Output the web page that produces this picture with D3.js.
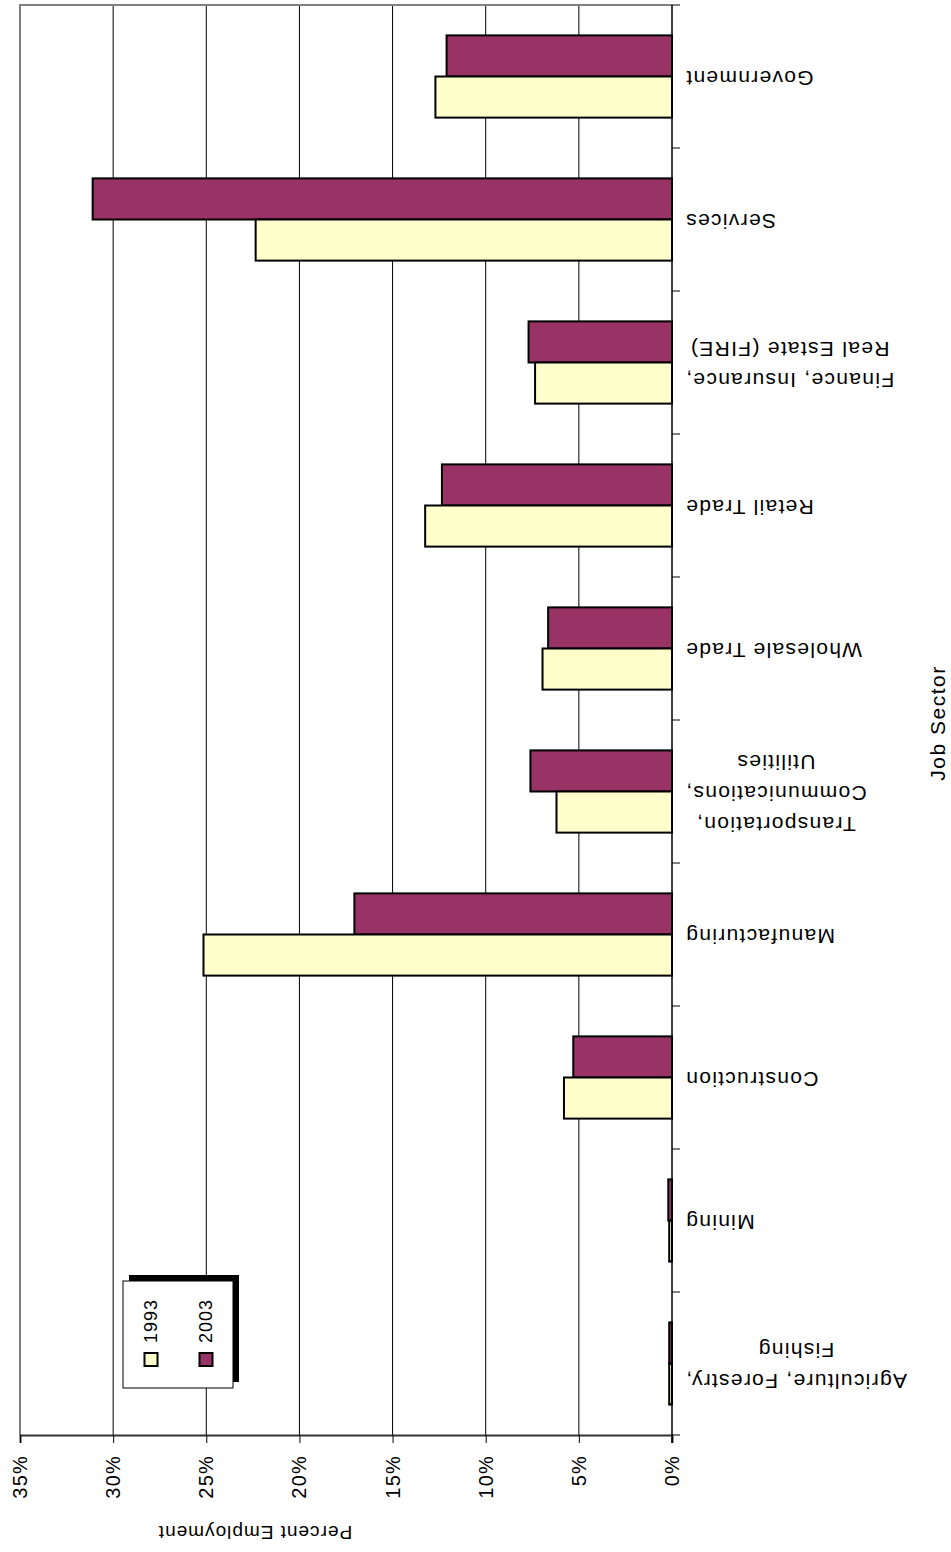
<!DOCTYPE html>
<html>
<head>
<meta charset="utf-8">
<script src="https://cdn.jsdelivr.net/npm/d3@7"></script>
<style>
  html, body { margin: 0; padding: 0; background: #fff; }
  svg { display: block; }
  text { font-family: Arial, "Liberation Sans", sans-serif; fill: #000; }
</style>
</head>
<body>
<svg id="chart" width="951" height="1552"></svg>
<script>
// Employment share by job sector, 1993 vs 2003
const sectors = [
  ["Government"],
  ["Services"],
  ["Finance, Insurance,", "Real Estate (FIRE)"],
  ["Retail Trade"],
  ["Wholesale Trade"],
  ["Transportation,", "Communications,", "Utilities"],
  ["Manufacturing"],
  ["Construction"],
  ["Mining"],
  ["Agriculture, Forestry,", "Fishing"]
];
const years = ["2003", "1993"];
const values2003 = [12.1, 31.1, 7.7, 12.35, 6.65, 7.6, 17.05, 5.3, 0.2, 0.15];
const values1993 = [12.7, 22.35, 7.35, 13.25, 6.95, 6.2, 25.15, 5.8, 0.15, 0.15];
const valueTicks = [0, 5, 10, 15, 20, 25, 30, 35];
const colors = { "2003": "#993366", "1993": "#FFFFCC" };

const svg = d3.select("#chart");
const plot = { left: 20, right: 672, top: 5, bottom: 1435 };

const x = d3.scaleLinear().domain([0, 35]).range([plot.right, plot.left]);
const y = d3.scaleBand()
  .domain(d3.range(sectors.length))
  .range([plot.top, plot.bottom]);
const groupFrac = 0.575;
const inner = d3.scaleBand()
  .domain(years)
  .range([0, y.step() * groupFrac]);
const groupOffset = y.step() * (1 - groupFrac) / 2;

// gridlines
svg.append("g")
  .selectAll("line")
  .data(valueTicks.filter(t => t > 0 && t < 35))
  .join("line")
  .attr("x1", d => x(d)).attr("x2", d => x(d))
  .attr("y1", plot.top).attr("y2", plot.bottom)
  .attr("stroke", "#000").attr("stroke-width", 1);

// plot frame (top and far edge)
svg.append("path")
  .attr("d", `M${plot.left},${plot.bottom} V${plot.top} H${plot.right}`)
  .attr("fill", "none").attr("stroke", "#808080").attr("stroke-width", 2);

// bars
const rows = sectors.map((s, i) => ({ i, "2003": values2003[i], "1993": values1993[i] }));
const groups = svg.append("g").selectAll("g")
  .data(rows)
  .join("g")
  .attr("transform", d => `translate(0,${y(d.i) + groupOffset})`);
groups.selectAll("rect")
  .data(d => years.map(k => ({ k, v: d[k] })))
  .join("rect")
  .attr("x", d => x(d.v))
  .attr("y", d => inner(d.k))
  .attr("width", d => x(0) - x(d.v))
  .attr("height", inner.bandwidth())
  .attr("fill", d => colors[d.k])
  .attr("stroke", "#000").attr("stroke-width", 2);

// value axis (bottom)
const xAxis = d3.axisBottom(x).tickValues(valueTicks).tickSize(8).tickFormat("");
const gx = svg.append("g").attr("transform", `translate(0,${plot.bottom})`).call(xAxis);
gx.select(".domain").attr("stroke", "#333").attr("stroke-width", 2);
gx.selectAll(".tick line").attr("stroke", "#000");

svg.append("g").selectAll("text")
  .data(valueTicks)
  .join("text")
  .attr("transform", d => `translate(${x(d)},1455) rotate(-90)`)
  .attr("text-anchor", "end")
  .attr("dominant-baseline", "central")
  .attr("font-size", 20)
  .attr("letter-spacing", 1.2)
  .text(d => d + "%");

// category axis (right)
const yEdges = d3.range(sectors.length + 1).map(i => plot.top + i * y.step());
svg.append("line")
  .attr("x1", plot.right).attr("x2", plot.right)
  .attr("y1", plot.top).attr("y2", plot.bottom + 8)
  .attr("stroke", "#000").attr("stroke-width", 1.5);
svg.append("g").selectAll("line")
  .data(yEdges)
  .join("line")
  .attr("x1", plot.right).attr("x2", plot.right + 8)
  .attr("y1", d => d).attr("y2", d => d)
  .attr("stroke", "#000").attr("stroke-width", 1);

// category labels
const labelGap = 13, lineH = 31;
const lab = svg.append("g").selectAll("g")
  .data(sectors)
  .join("g");
lab.each(function (lines, i) {
  const g = d3.select(this);
  const t = g.selectAll("text")
    .data(lines)
    .join("text")
    .attr("text-anchor", "middle")
    .attr("dominant-baseline", "central")
    .attr("font-size", 21)
    .attr("letter-spacing", 1.3)
    .attr("y", (d, j) => (j - (lines.length - 1) / 2) * lineH)
    .text(d => d);
  let w = 0;
  t.each(function () { w = Math.max(w, this.getComputedTextLength()); });
  const cx = plot.right + labelGap + w / 2;
  const cy = y(i) + y.bandwidth() / 2 + 2;
  g.attr("transform", `translate(${cx},${cy}) rotate(180)`);
});

// axis titles
svg.append("text")
  .attr("transform", "translate(255,1532) rotate(180)")
  .attr("text-anchor", "middle")
  .attr("dominant-baseline", "central")
  .attr("font-size", 19)
  .attr("letter-spacing", 1)
  .text("Percent Employment");
svg.append("text")
  .attr("transform", `translate(937,${(plot.top + plot.bottom) / 2 + 3}) rotate(-90)`)
  .attr("text-anchor", "middle")
  .attr("dominant-baseline", "central")
  .attr("font-size", 21)
  .attr("letter-spacing", 1.5)
  .text("Job Sector");

// legend with drop shadow
const legend = svg.append("g");
const lg = { x: 123, y: 1281, w: 110, h: 107, sh: 6 };
legend.append("rect")
  .attr("x", lg.x + lg.sh).attr("y", lg.y - lg.sh)
  .attr("width", lg.w).attr("height", lg.h)
  .attr("fill", "#000");
legend.append("rect")
  .attr("x", lg.x).attr("y", lg.y)
  .attr("width", lg.w).attr("height", lg.h)
  .attr("fill", "#fff").attr("stroke", "#000").attr("stroke-width", 1);
const legendYears = ["1993", "2003"];
const lx = d3.scalePoint().domain(legendYears).range([lg.x + 28, lg.x + 83]);
const items = legend.selectAll("g.item")
  .data(legendYears)
  .join("g").attr("class", "item");
items.append("rect")
  .attr("x", d => lx(d) - 6.5).attr("y", 1353)
  .attr("width", 13).attr("height", 13)
  .attr("fill", d => colors[d]).attr("stroke", "#000").attr("stroke-width", 2);
items.append("text")
  .attr("transform", d => `translate(${lx(d)},1343) rotate(-90)`)
  .attr("text-anchor", "start")
  .attr("dominant-baseline", "central")
  .attr("font-size", 18)
  .attr("letter-spacing", 1)
  .text(d => d);
</script>
</body>
</html>
